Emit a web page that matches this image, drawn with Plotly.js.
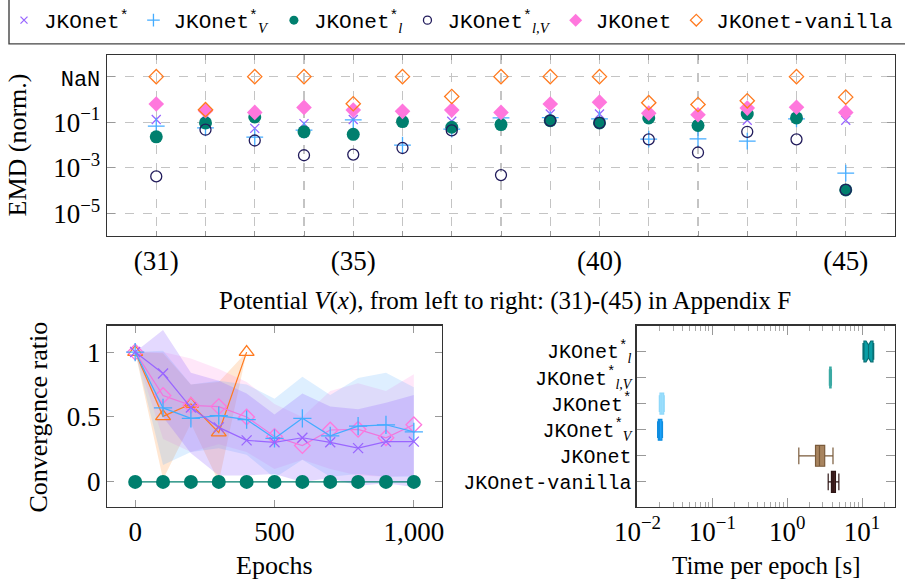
<!DOCTYPE html>
<html>
<head>
<meta charset="utf-8">
<script src="https://cdn.plot.ly/plotly-3.0.1.min.js"></script>
<style>html,body{margin:0;padding:0;background:#fff;}#chart{width:905px;height:583px;}</style>
</head>
<body>
<div id="chart"></div>
<script>
// ---------------- DATA ----------------
// Top panel: normalized EMD per potential (31)-(45); NaN = method failed
const potentials = [31,32,33,34,35,36,37,38,39,40,41,42,43,44,45];
const emdJKOnetStar  = [0.132,0.214,0.0537,0.0871,0.132,0.158,0.110,0.141,0.229,0.229,0.178,0.158,0.123,0.158,0.123];
const emdJKOnetStarV = [0.068,0.056,0.0224,0.045,0.126,0.0098,0.050,0.155,0.158,0.141,0.018,0.0186,0.0148,0.141,0.00059];
const emdJKOnetStarL = [0.0229,0.0933,0.170,0.038,0.0295,0.107,0.060,0.079,0.117,0.093,0.155,0.072,0.229,0.155,0.000107];
const emdJKOnetStarLV= [0.00042,0.047,0.0158,0.00355,0.0038,0.0074,0.0437,0.00048,0.117,0.093,0.0178,0.0047,0.038,0.0178,0.000107];
const emdJKOnet      = [0.63,0.32,0.27,0.447,0.34,0.30,0.34,0.27,0.63,0.76,0.25,0.214,0.417,0.457,0.27];
const emdJKOnetVanilla = [NaN,0.355,NaN,NaN,0.645,NaN,1.35,NaN,NaN,NaN,0.72,0.60,0.87,NaN,1.26];
const nanLevel = 10;           // where the "NaN" row is drawn
const topTickVals = [10, 0.1, 0.001, 0.00001];
const topTickText = ['<span style="font-family:Liberation Mono;font-size:22px">NaN</span>', '10<sup>−1</sup>', '10<sup>−3</sup>', '10<sup>−5</sup>'];
const potentialLabels = potentials.map(p => ([31,35,40,45].includes(p) ? '(' + p + ')' : ''));

// Bottom-left: convergence ratio vs epochs
const epochs = [0,100,200,300,400,500,600,700,800,900,1000];
const epochsVanilla = [0,100,200,300,400];
const convStar   = [1,0.835,0.573,0.42,0.32,0.305,0.34,0.305,0.26,0.31,0.31];
const convStarV  = [1,0.57,0.49,0.51,0.48,0.335,0.49,0.355,0.43,0.44,0.385];
const convJKOnet = [1,0.665,0.59,0.58,0.50,0.35,0.28,0.40,0.405,0.34,0.44];
const convVanilla= [1,0.505,0.60,0.38,1.0];
const convStarL  = [0,0,0,0,0,0,0,0,0,0,0];
const bandStarUp   = [1.0,1.17,0.84,0.78,0.68,0.52,0.68,0.58,0.56,0.61,0.67];
const bandStarLo   = [1.0,0.50,0.22,0.05,0.05,0.06,0.0,0.03,-0.03,-0.01,-0.04];
const bandStarVUp  = [1.0,1.01,0.75,0.78,0.75,0.64,0.81,0.67,0.80,0.84,0.73];
const bandStarVLo  = [1.0,0.13,0.23,0.26,0.21,0.03,0.17,0.04,0.06,0.04,0.04];
const bandJKOnetUp = [1.0,1.0,0.95,0.87,0.77,0.60,0.50,0.70,0.76,0.70,0.83];
const bandJKOnetLo = [1.0,0.33,0.23,0.29,0.23,0.10,0.17,0.10,0.05,0.04,0.05];
const bandVanUp    = [1.0,0.99,0.75,0.77,1.0];
const bandVanLo    = [1.0,0.02,0.45,0.0,1.0];

// Bottom-right: time per epoch [s] (box statistics)
const sub = s => '<sub><span style="font-family:Liberation Serif"><i>' + s + '</i></span></sub>';
const timeMethods = [
  'JKOnet<sup>*</sup>' + sub('l'),
  'JKOnet<sup>*</sup>' + sub('l,V'),
  'JKOnet<sup>*</sup>',
  'JKOnet<sup>*</sup>' + sub('V'),
  'JKOnet',
  'JKOnet-vanilla'
];
const timeQ1     = [10.6, 3.70, 0.0200, 0.0190, 2.39, 3.90];
const timeMedian = [12.2, 3.78, 0.0212, 0.0197, 2.70, 4.10];
const timeQ3     = [14.0, 3.86, 0.0224, 0.0212, 3.17, 4.41];
const timeLower  = [10.3, 3.66, 0.0196, 0.0186, 1.43, 3.53];
const timeUpper  = [14.3, 3.90, 0.0228, 0.0216, 4.09, 4.90];
const timeFill   = ['#0a9ea5','#4fc4bd','#a6e4ff','#1aa5ff','#a8845f','#4a2525'];
const timeLine   = ['#086f74','#3aa9a3','#8fd8fa','#0f8de0','#7a5a3a','#2d1515'];

// ---------------- STYLE ----------------
const W = 905, H = 583;
const SERIF = 'Liberation Serif, Times New Roman, serif';
const MONO = 'Liberation Mono, DejaVu Sans Mono, monospace';
const C = {purple:'#9966ff', blue:'#44acff', teal:'#007f6e', navy:'#221c5c', pink:'#ff77dd', orange:'#ff7a1f'};
const px = v => v / W, py = v => 1 - v / H;
const mapNaN = arr => arr.map(v => (Number.isNaN(v) ? nanLevel : v));

const traces = [];
// top panel
const topSeries = [
  {name:'JKOnet<sup>*</sup>', y:emdJKOnetStar, marker:{symbol:'x-thin-open', size:9, color:C.purple, line:{color:C.purple, width:1.3}}, lsize:7},
  {name:'JKOnet<sup>*</sup>' + sub('V'), y:emdJKOnetStarV, marker:{symbol:'cross-thin-open', size:12, color:C.blue, line:{color:C.blue, width:1.3}}, lsize:9},
  {name:'JKOnet<sup>*</sup>' + sub('l'), y:emdJKOnetStarL, marker:{symbol:'circle', size:13, color:C.teal, line:{width:0}}, lsize:9},
  {name:'JKOnet<sup>*</sup>' + sub('l,V'), y:emdJKOnetStarLV, marker:{symbol:'circle-open', size:11, color:C.navy, line:{color:C.navy, width:1.3}}, lsize:8},
  {name:'JKOnet', y:emdJKOnet, marker:{symbol:'diamond', size:12, color:C.pink, line:{width:0}}, lsize:10},
  {name:'JKOnet-vanilla', y:mapNaN(emdJKOnetVanilla), marker:{symbol:'diamond-open', size:11, color:C.orange, line:{color:C.orange, width:1.3}}, lsize:9}
];
topSeries.forEach(s => traces.push({type:'scatter', mode:'markers', x:potentials, y:s.y, name:s.name, marker:s.marker, xaxis:'x', yaxis:'y', showlegend:false, cliponaxis:false}));
// legend entries (smaller symbols, as in the reference legend)
topSeries.forEach(s => traces.push({type:'scatter', mode:'markers', x:[null], y:[null], name:s.name,
  marker:Object.assign({}, s.marker, {size:s.lsize}), xaxis:'x', yaxis:'y', showlegend:true}));

// bottom-left bands
const band = (x, lo, up, color) => {
  traces.push({type:'scatter', mode:'lines', x:x, y:lo, line:{width:0}, showlegend:false, xaxis:'x2', yaxis:'y2', hoverinfo:'skip'});
  traces.push({type:'scatter', mode:'lines', x:x, y:up, line:{width:0}, fill:'tonexty', fillcolor:color, showlegend:false, xaxis:'x2', yaxis:'y2', hoverinfo:'skip'});
};
band(epochsVanilla, bandVanLo, bandVanUp, 'rgba(255,160,80,0.25)');
band(epochs, bandJKOnetLo, bandJKOnetUp, 'rgba(255,120,220,0.18)');
band(epochs, bandStarVLo, bandStarVUp, 'rgba(90,175,255,0.20)');
band(epochs, bandStarLo, bandStarUp, 'rgba(150,110,255,0.26)');
// bottom-left lines
const line = (x, y, color, marker) => traces.push({type:'scatter', mode:'lines+markers', x:x, y:y, line:{color:color, width:1.2}, marker:marker, showlegend:false, xaxis:'x2', yaxis:'y2', cliponaxis:false});
line(epochs, convStarL, C.teal, {symbol:'circle', size:14, color:C.teal});
line(epochsVanilla, convVanilla, C.orange, {symbol:'triangle-up-open', size:13, color:C.orange, line:{color:C.orange, width:1.3}});
line(epochs, convJKOnet, '#ee77dd', {symbol:'diamond-open', size:12, color:'#ff77dd', line:{color:'#ff77dd', width:1.3}});
line(epochs, convStarV, C.blue, {symbol:'cross-thin-open', size:13, color:C.blue, line:{color:C.blue, width:1.3}});
line(epochs, convStar, C.purple, {symbol:'x-thin-open', size:10, color:C.purple, line:{color:C.purple, width:1.3}});

// bottom-right boxes
timeMethods.forEach((m, i) => {
  traces.push({type:'box', orientation:'h', y:[m], q1:[timeQ1[i]], median:[timeMedian[i]], q3:[timeQ3[i]],
    lowerfence:[timeLower[i]], upperfence:[timeUpper[i]], fillcolor:timeFill[i], line:{color:timeLine[i], width:1.2},
    width:0.8, whiskerwidth:0.8, showlegend:false, xaxis:'x3', yaxis:'y3', boxpoints:false,
    notched: i === 0, notchspan: i === 0 ? [0.9] : undefined, notchwidth:0.2});
});

// minor ticks for log axis
const minorVals = [];
for (let d = -2; d <= 1; d++) for (let k = 2; k <= 9; k++) minorVals.push(k * Math.pow(10, d));

const frame = {showline:true, linecolor:'#333', linewidth:1.3, mirror:'ticks', zeroline:false, automargin:false};
const ann = (text, x, y, size, angle) => ({text:text, x:px(x), y:py(y), xref:'paper', yref:'paper', xanchor:'center', yanchor:'middle',
  textangle:angle || 0, showarrow:false, font:{family:SERIF, size:size, color:'#000'}});
const layout = {
  width:W, height:H, margin:{l:0, r:0, t:0, b:0}, paper_bgcolor:'#fff', plot_bgcolor:'#fff',
  showlegend:true,
  legend:{orientation:'h', traceorder:'normal', x:px(4), y:py(-2), xanchor:'left', yanchor:'top', font:{family:MONO, size:21, color:'#000'},
          bgcolor:'rgba(0,0,0,0)', itemwidth:30, tracegroupgap:0, itemsizing:'trace'},
  xaxis:Object.assign({}, frame, {domain:[px(107), px(895)], range:[30,46], tickmode:'array', tickvals:potentials, ticktext:potentialLabels,
          showgrid:true, gridcolor:'#c4c4c4', griddash:'dash', gridwidth:1.2, ticks:'inside', ticklen:5, tickcolor:'#999',
          tickfont:{family:SERIF, size:27, color:'#000'}, anchor:'y'}),
  yaxis:Object.assign({}, frame, {domain:[py(235), py(53)], type:'log', range:[-6, 1.957], tickmode:'array', tickvals:topTickVals, ticktext:topTickText,
          showgrid:true, gridcolor:'#c4c4c4', griddash:'dash', gridwidth:1.2, ticks:'inside', ticklen:8, tickcolor:'#999',
          tickfont:{family:SERIF, size:27, color:'#000'}, anchor:'x'}),
  xaxis2:Object.assign({}, frame, {domain:[px(107.3), px(441.7)], range:[-100,1100], tickmode:'array', tickvals:[0,500,1000], ticktext:['0','500','1,000'],
          showgrid:false, ticks:'inside', ticklen:7, tickcolor:'#999', tickfont:{family:SERIF, size:27, color:'#000'}, anchor:'y2'}),
  yaxis2:Object.assign({}, frame, {domain:[py(506.7), py(324.7)], range:[-0.193,1.204], tickmode:'array', tickvals:[0,0.5,1], ticktext:['0','0.5','1'],
          showgrid:false, ticks:'inside', ticklen:7, tickcolor:'#999', tickfont:{family:SERIF, size:27, color:'#000'}, anchor:'x2'}),
  xaxis3:Object.assign({}, frame, {domain:[px(636.7), px(895)], type:'log', range:[-2.01,1.44], tickmode:'array', tickvals:[0.01,0.1,1,10],
          ticktext:['10<sup>−2</sup>','10<sup>−1</sup>','10<sup>0</sup>','10<sup>1</sup>'],
          showgrid:false, ticks:'inside', ticklen:9, tickcolor:'#999', tickfont:{family:SERIF, size:27, color:'#000'},
          minor:{tickmode:'array', tickvals:minorVals, ticks:'inside', ticklen:5, tickcolor:'#aaa', showgrid:false}, anchor:'y3'}),
  yaxis3:Object.assign({}, frame, {domain:[py(506.7), py(324.7)], type:'category', categoryorder:'array', categoryarray:timeMethods.slice().reverse(),
          range:[-0.96,5.99], showgrid:false, ticks:'inside', ticklen:9, tickcolor:'#999', tickfont:{family:MONO, size:20, color:'#000'}, anchor:'x3'}),
  shapes:[{type:'rect', xref:'paper', yref:'paper', x0:px(9), x1:px(912), y0:py(42), y1:py(-5), line:{color:'#444', width:1.4}}],
  annotations:[
    ann('EMD (norm.)', 18, 144, 26, -90),
    ann('Potential <i>V</i>(<i>x</i>), from left to right: (31)-(45) in Appendix F', 505, 300, 25),
    ann('Convergence ratio', 39, 417, 26, -90),
    ann('Epochs', 274, 565, 26),
    ann('Time per epoch [s]', 766, 565, 25)
  ]
};
Plotly.newPlot('chart', traces, layout, {staticPlot:true, displayModeBar:false});
</script>
</body>
</html>
